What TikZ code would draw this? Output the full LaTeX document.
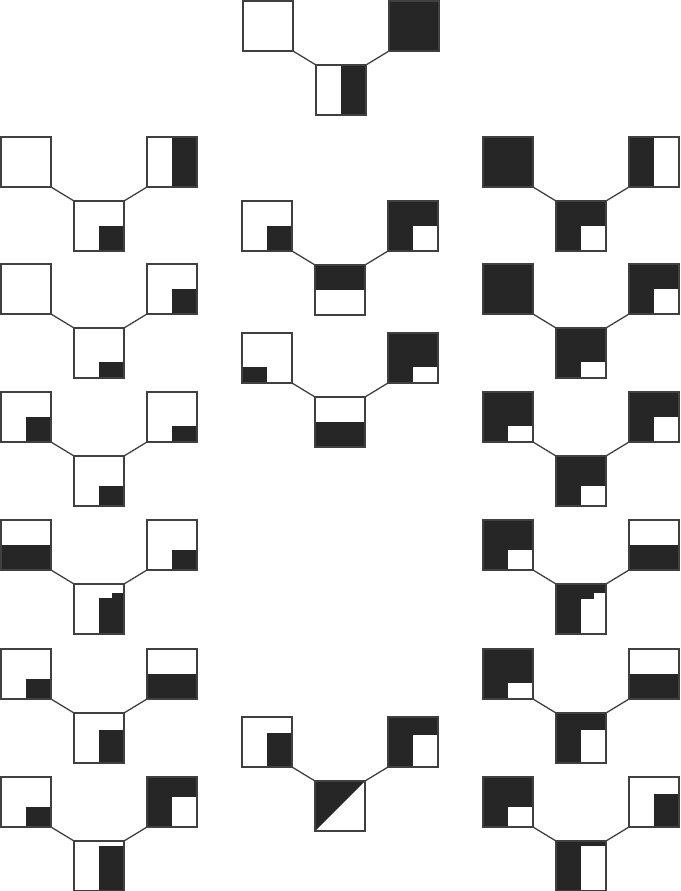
\documentclass[tikz,border=0pt]{standalone}

\tikzset{
  cell/.style={draw=black!75, line width=1.3pt, minimum size=50pt,
    inner sep=0pt, outer sep=0pt, anchor=north west},
  link/.style={draw=black!75, line width=1.3pt},
  ink/.style={fill=black!85},
  paper/.style={fill=white},
}

% fills inside a cell, in fractions of its side (y runs down)
\newcommand{\blk}[4]{\fill[ink] (#1*50,#2*50) rectangle (#3*50,#4*50);}
\newcommand{\wht}[4]{\fill[paper] (#1*50,#2*50) rectangle (#3*50,#4*50);}
\newcommand{\full}{\blk{0}{0}{1}{1}}
\newcommand{\tri}{\fill[ink] (0,0) -- (50,0) -- (0,50) -- cycle;}

% one V: left cell, right cell, bottom cell
\newcommand{\motif}[6]{
  \begin{scope}[shift={(#2,#3)}] #4 \end{scope}
  \begin{scope}[shift={(#2+146,#3)}] #5 \end{scope}
  \begin{scope}[shift={(#2+73,#3+64)}] #6 \end{scope}
  \node[cell] (#1l) at (#2,#3) {};
  \node[cell] (#1r) at (#2+146,#3) {};
  \node[cell] (#1b) at (#2+73,#3+64) {};
  \draw[link] (#1l.south east) -- (#1b.north west);
  \draw[link] (#1r.south west) -- (#1b.north east);
}

\begin{document}
\begin{tikzpicture}[x=1pt,y=-1pt]
  \useasboundingbox (0,0) rectangle (680,891);

  \motif{t}{243}{1}{}{\full}{\blk{.5}{0}{1}{1}}

  \begin{scope} % left column
    \motif{a1}{1}{137}{}{\blk{.5}{0}{1}{1}}{\blk{.5}{.5}{1}{1}}
    \motif{a2}{1}{264}{}{\blk{.5}{.5}{1}{1}}{\blk{.5}{.67}{1}{1}}
    \motif{a3}{1}{392}{\blk{.5}{.5}{1}{1}}{\blk{.5}{.67}{1}{1}}{\blk{.5}{.6}{1}{1}}
    \motif{a4}{1}{520}{\blk{0}{.5}{1}{1}}{\blk{.5}{.6}{1}{1}}{\blk{.5}{.27}{1}{1}\blk{.75}{.17}{1}{1}}
    \motif{a5}{1}{649}{\blk{.5}{.6}{1}{1}}{\blk{0}{.5}{1}{1}}{\blk{.5}{.33}{1}{1}}
    \motif{a6}{1}{777}{\blk{.5}{.6}{1}{1}}{\full\wht{.5}{.4}{1}{1}}{\blk{.5}{.1}{1}{1}}
  \end{scope}

  \begin{scope} % middle column
    \motif{m1}{242}{201}{\blk{.5}{.5}{1}{1}}{\full\wht{.5}{.5}{1}{1}}{\blk{0}{0}{1}{.5}}
    \motif{m2}{242}{333}{\blk{0}{.67}{.5}{1}}{\full\wht{.5}{.67}{1}{1}}{\blk{0}{.5}{1}{1}}
    \motif{m3}{242}{717}{\blk{.5}{.32}{1}{1}}{\full\wht{.5}{.36}{1}{1}}{\tri}
  \end{scope}

  \begin{scope} % right column
    \motif{r1}{483}{137}{\full}{\blk{0}{0}{.5}{1}}{\full\wht{.5}{.5}{1}{1}}
    \motif{r2}{483}{264}{\full}{\full\wht{.5}{.5}{1}{1}}{\full\wht{.5}{.67}{1}{1}}
    \motif{r3}{483}{392}{\full\wht{.5}{.67}{1}{1}}{\full\wht{.5}{.5}{1}{1}}{\full\wht{.5}{.6}{1}{1}}
    \motif{r4}{483}{520}{\full\wht{.5}{.6}{1}{1}}{\blk{0}{.5}{1}{1}}{\full\wht{.5}{.3}{1}{1}\wht{.75}{.17}{1}{1}}
    \motif{r5}{483}{649}{\full\wht{.5}{.67}{1}{1}}{\blk{0}{.5}{1}{1}}{\full\wht{.5}{.33}{1}{1}}
    \motif{r6}{483}{777}{\full\wht{.5}{.6}{1}{1}}{\blk{.5}{.33}{1}{1}}{\full\wht{.5}{.1}{1}{1}}
  \end{scope}
\end{tikzpicture}
\end{document}
